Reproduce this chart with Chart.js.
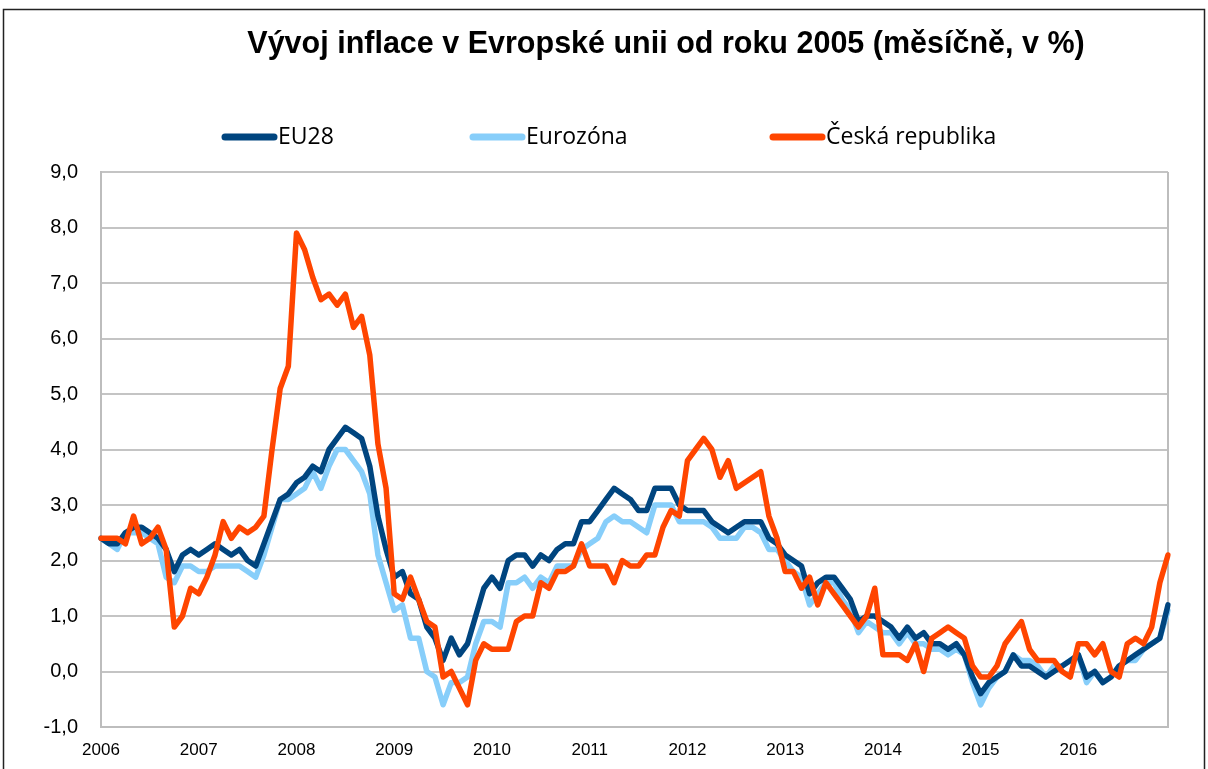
<!DOCTYPE html>
<html>
<head>
<meta charset="utf-8">
<script src="https://cdn.jsdelivr.net/npm/chart.js@4.4.1/dist/chart.umd.min.js"></script>
<style>
  html, body { margin: 0; padding: 0; background: #ffffff; }
  canvas { display: block; }
</style>
</head>
<body>
<canvas id="c" width="1208" height="769"></canvas>
<script>
// ---- Data (monthly, Jan 2006 – Dec 2016) ----
const titleText = 'Vývoj inflace v Evropské unii od roku 2005 (měsíčně, v %)';
const years = ['2006','2007','2008','2009','2010','2011','2012','2013','2014','2015','2016'];
const monthNames = ['01','02','03','04','05','06','07','08','09','10','11','12'];
const categories = years.flatMap(y => monthNames.map(m => y + '-' + m));
const yearTickLabels = years;
const seriesNames = ['EU28', 'Eurozóna', 'Česká republika'];
const seriesColors = ['#00457F', '#87CEFA', '#FF4500'];

const eu28 = [
  2.4, 2.3, 2.3, 2.5, 2.6, 2.6, 2.5, 2.4, 2.2, 1.8, 2.1, 2.2,
  2.1, 2.2, 2.3, 2.2, 2.1, 2.2, 2.0, 1.9, 2.3, 2.7, 3.1, 3.2,
  3.4, 3.5, 3.7, 3.6, 4.0, 4.2, 4.4, 4.3, 4.2, 3.7, 2.8, 2.2,
  1.7, 1.8, 1.4, 1.3, 0.8, 0.6, 0.2, 0.6, 0.3, 0.5, 1.0, 1.5,
  1.7, 1.5, 2.0, 2.1, 2.1, 1.9, 2.1, 2.0, 2.2, 2.3, 2.3, 2.7,
  2.7, 2.9, 3.1, 3.3, 3.2, 3.1, 2.9, 2.9, 3.3, 3.3, 3.3, 3.0,
  2.9, 2.9, 2.9, 2.7, 2.6, 2.5, 2.6, 2.7, 2.7, 2.7, 2.4, 2.3,
  2.1, 2.0, 1.9, 1.4, 1.6, 1.7, 1.7, 1.5, 1.3, 0.9, 1.0, 1.0,
  0.9, 0.8, 0.6, 0.8, 0.6, 0.7, 0.5, 0.5, 0.4, 0.5, 0.3, -0.1,
  -0.4, -0.2, -0.1, 0.0, 0.3, 0.1, 0.1, 0.0, -0.1, 0.0, 0.1, 0.2,
  0.3, -0.1, 0.0, -0.2, -0.1, 0.1, 0.2, 0.3, 0.4, 0.5, 0.6, 1.2
];
const eurozone = [
  2.4, 2.3, 2.2, 2.5, 2.5, 2.5, 2.4, 2.3, 1.7, 1.6, 1.9, 1.9,
  1.8, 1.8, 1.9, 1.9, 1.9, 1.9, 1.8, 1.7, 2.1, 2.6, 3.1, 3.1,
  3.2, 3.3, 3.6, 3.3, 3.7, 4.0, 4.0, 3.8, 3.6, 3.2, 2.1, 1.6,
  1.1, 1.2, 0.6, 0.6, 0.0, -0.1, -0.6, -0.2, -0.2, -0.1, 0.5, 0.9,
  0.9, 0.8, 1.6, 1.6, 1.7, 1.5, 1.7, 1.6, 1.9, 1.9, 1.9, 2.2,
  2.3, 2.4, 2.7, 2.8, 2.7, 2.7, 2.6, 2.5, 3.0, 3.0, 3.0, 2.7,
  2.7, 2.7, 2.7, 2.6, 2.4, 2.4, 2.4, 2.6, 2.6, 2.5, 2.2, 2.2,
  2.0, 1.8, 1.7, 1.2, 1.4, 1.6, 1.6, 1.3, 1.1, 0.7, 0.9, 0.8,
  0.7, 0.7, 0.5, 0.7, 0.5, 0.5, 0.4, 0.4, 0.3, 0.4, 0.3, -0.2,
  -0.6, -0.3, -0.1, 0.0, 0.3, 0.2, 0.2, 0.1, -0.1, 0.1, 0.1, 0.2,
  0.3, -0.2, 0.0, -0.2, -0.1, 0.1, 0.2, 0.2, 0.4, 0.5, 0.6, 1.1
];
const czech = [
  2.4, 2.4, 2.4, 2.3, 2.8, 2.3, 2.4, 2.6, 2.2, 0.8, 1.0, 1.5,
  1.4, 1.7, 2.1, 2.7, 2.4, 2.6, 2.5, 2.6, 2.8, 4.0, 5.1, 5.5,
  7.9, 7.6, 7.1, 6.7, 6.8, 6.6, 6.8, 6.2, 6.4, 5.7, 4.1, 3.3,
  1.4, 1.3, 1.7, 1.3, 0.9, 0.8, -0.1, 0.0, -0.3, -0.6, 0.2, 0.5,
  0.4, 0.4, 0.4, 0.9, 1.0, 1.0, 1.6, 1.5, 1.8, 1.8, 1.9, 2.3,
  1.9, 1.9, 1.9, 1.6, 2.0, 1.9, 1.9, 2.1, 2.1, 2.6, 2.9, 2.8,
  3.8, 4.0, 4.2, 4.0, 3.5, 3.8, 3.3, 3.4, 3.5, 3.6, 2.8, 2.4,
  1.8, 1.8, 1.5, 1.7, 1.2, 1.6, 1.4, 1.2, 1.0, 0.8, 1.0, 1.5,
  0.3, 0.3, 0.3, 0.2, 0.5, 0.0, 0.6, 0.7, 0.8, 0.7, 0.6, 0.1,
  -0.1, -0.1, 0.1, 0.5, 0.7, 0.9, 0.4, 0.2, 0.2, 0.2, 0.0, -0.1,
  0.5, 0.5, 0.3, 0.5, 0.0, -0.1, 0.5, 0.6, 0.5, 0.8, 1.6, 2.1
];
const yMin = -1, yMax = 9, yStep = 1;

// ---- Decorations (frame, plot border, title, legend) ----
const decor = {
  id: 'decor',
  beforeDraw(chart) {
    const ctx = chart.ctx;
    ctx.save();
    ctx.fillStyle = '#ffffff';
    ctx.fillRect(0, 0, chart.width, chart.height);
    ctx.strokeStyle = '#222222';
    ctx.lineWidth = 1.5;
    ctx.beginPath();
    ctx.moveTo(3.5, chart.height + 2);
    ctx.lineTo(3.5, 9.5);
    ctx.lineTo(1204.5, 9.5);
    ctx.lineTo(1204.5, chart.height + 2);
    ctx.stroke();
    ctx.restore();
  },
  beforeDatasetsDraw(chart) {
    const {ctx, chartArea: a} = chart;
    ctx.save();
    ctx.strokeStyle = '#bdbdbd';
    ctx.lineWidth = 2;
    ctx.beginPath();
    ctx.moveTo(a.right, a.top);
    ctx.lineTo(a.right, a.bottom);
    ctx.stroke();
    ctx.restore();
  },
  afterDraw(chart) {
    const ctx = chart.ctx;
    ctx.save();
    ctx.fillStyle = '#000000';
    ctx.font = 'bold 30.5px "Liberation Sans", Arial, sans-serif';
    ctx.textAlign = 'center';
    ctx.textBaseline = 'middle';
    ctx.fillText(titleText, 666, 45);

    const legendX = [222, 470, 770];
    const ly = 137;
    ctx.font = '23px "Open Sans", "Noto Sans", sans-serif';
    ctx.textAlign = 'left';
    ctx.lineCap = 'round';
    chart.data.datasets.forEach((ds, i) => {
      ctx.strokeStyle = ds.borderColor;
      ctx.lineWidth = 7;
      ctx.beginPath();
      ctx.moveTo(legendX[i] + 3, ly);
      ctx.lineTo(legendX[i] + 52, ly);
      ctx.stroke();
      ctx.fillStyle = '#000000';
      ctx.fillText(ds.label, legendX[i] + 56, ly);
    });
    ctx.restore();
  }
};

const ds = (label, data, color, order) => ({
  label, data, borderColor: color, backgroundColor: color,
  borderWidth: 5.5, pointRadius: 0, tension: 0, order,
  borderJoinStyle: 'round', borderCapStyle: 'round'
});

new Chart(document.getElementById('c'), {
  type: 'line',
  data: {
    labels: categories,
    datasets: [
      ds(seriesNames[0], eu28, seriesColors[0], 1),
      ds(seriesNames[1], eurozone, seriesColors[1], 2),
      ds(seriesNames[2], czech, seriesColors[2], 0)
    ]
  },
  options: {
    responsive: false,
    animation: false,
    layout: { padding: { top: 172, right: 40, bottom: 0, left: 0 } },
    plugins: { legend: { display: false }, title: { display: false }, tooltip: { enabled: false } },
    scales: {
      x: {
        type: 'category',
        offset: false,
        grid: { display: false },
        border: { display: true, color: '#bdbdbd', width: 2 },
        ticks: {
          autoSkip: false, maxRotation: 0, minRotation: 0, padding: 5,
          color: '#000000',
          font: { family: '"Liberation Sans", Arial, sans-serif', size: 17 },
          callback: (v, i) => (i % 12 === 0 ? yearTickLabels[i / 12] : null)
        },
        afterFit: s => { s.height = 42; }
      },
      y: {
        min: yMin, max: yMax,
        grid: { color: '#c4c4c4', lineWidth: 2, drawTicks: false },
        border: { display: true, color: '#bdbdbd', width: 2 },
        ticks: {
          stepSize: yStep, padding: 23, color: '#000000',
          font: { family: '"Liberation Sans", Arial, sans-serif', size: 20 },
          callback: v => v.toFixed(1).replace('.', ',')
        },
        afterFit: s => { s.width = 101; }
      }
    }
  },
  plugins: [decor]
});
</script>
</body>
</html>
